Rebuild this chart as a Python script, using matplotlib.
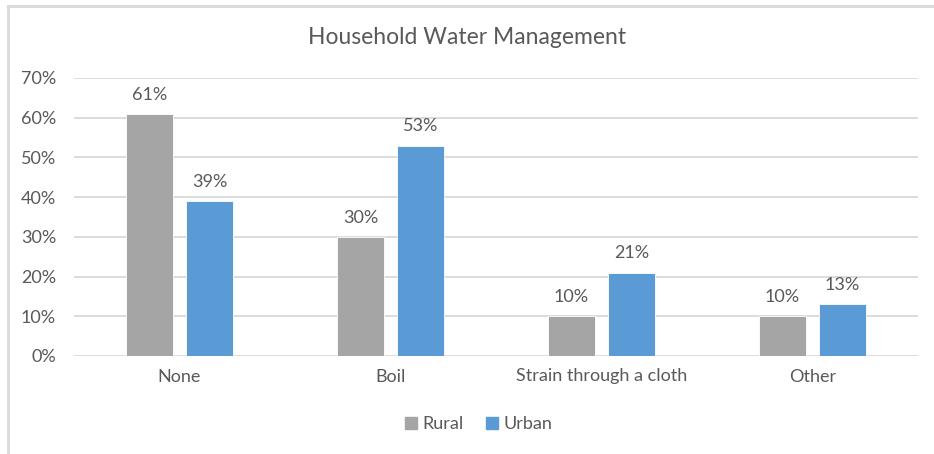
import matplotlib.pyplot as plt
import numpy as np
from matplotlib.lines import Line2D

categories = ["None", "Boil", "Strain through a cloth", "Other"]
rural = [61, 30, 10, 10]
urban = [39, 53, 21, 13]
yticks = [0, 10, 20, 30, 40, 50, 60, 70]

plt.rcParams["font.family"] = ["Lato", "DejaVu Sans"]
text_color = "#595959"
grid_color = "#D9D9D9"
rural_color = "#A5A5A5"
urban_color = "#5B9BD5"

fig = plt.figure(figsize=(9.34, 4.54), dpi=100)
ax = fig.add_axes([74 / 934, 1 - 356 / 454, 844 / 934, 278 / 454])

x = np.arange(len(categories))
w = 0.223
off = 0.142
b1 = ax.bar(x - off, rural, w, color=rural_color, edgecolor="white", linewidth=0.6, label="Rural", zorder=3)
b2 = ax.bar(x + off, urban, w, color=urban_color, edgecolor="white", linewidth=0.6, label="Urban", zorder=3)

for bars in (b1, b2):
    for bar in bars:
        h = bar.get_height()
        ax.annotate(f"{h:.0f}%", (bar.get_x() + bar.get_width() / 2, h),
                    xytext=(0, 8), textcoords="offset points",
                    ha="center", va="bottom", fontsize=13, color=text_color)

ax.set_xlim(-0.5, len(categories) - 0.5)
ax.set_ylim(0, 70)
ax.set_yticks(yticks)
ax.set_yticklabels([f"{t}%" for t in yticks])
ax.set_xticks(x)
ax.set_xticklabels(categories)
ax.tick_params(axis="both", length=0, labelsize=13, labelcolor=text_color)
ax.tick_params(axis="y", pad=13)
ax.tick_params(axis="x", pad=9)
ax.yaxis.grid(True, color=grid_color, linewidth=1.3, zorder=0)
for s in ax.spines.values():
    s.set_visible(False)

fig.text(0.5, 1 - 37 / 454, "Household Water Management", ha="center", va="center",
         fontsize=16.5, color=text_color)

handles = [Line2D([], [], marker="s", linestyle="", markersize=8, color=rural_color),
           Line2D([], [], marker="s", linestyle="", markersize=8, color=urban_color)]
fig.legend(handles, ["Rural", "Urban"], loc="center", bbox_to_anchor=(478 / 934, 1 - 424 / 454),
           ncol=2, frameon=False, fontsize=13, labelcolor=text_color,
           handlelength=0.8, handletextpad=0.2, columnspacing=1.2)

# chart border (top and left visible)
fig.add_artist(Line2D([8 / 934, 8 / 934], [0, 1 - 6 / 454], color=grid_color, linewidth=2, transform=fig.transFigure))
fig.add_artist(Line2D([8 / 934, 1], [1 - 6 / 454, 1 - 6 / 454], color=grid_color, linewidth=2, transform=fig.transFigure))

fig.savefig("out.png", dpi=100)
